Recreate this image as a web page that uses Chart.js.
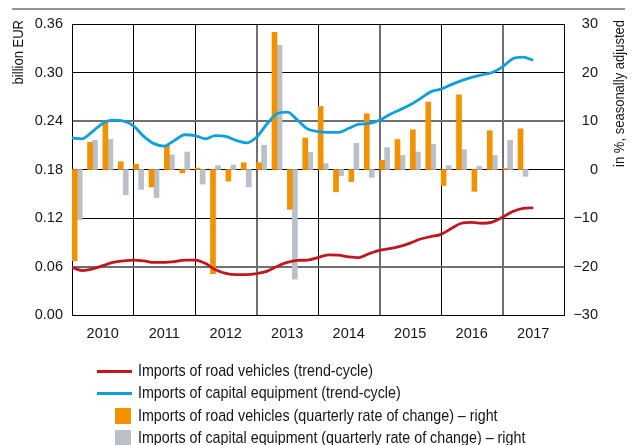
<!DOCTYPE html>
<html>
<head>
<meta charset="utf-8">
<script src="https://cdn.jsdelivr.net/npm/chart.js@4/dist/chart.umd.min.js"></script>
<style>
  html, body { margin: 0; padding: 0; background: #fff; }
  #wrap { position: relative; width: 638px; height: 445px; overflow: hidden; }
  #legend { position: absolute; left: 0; top: 0; width: 638px; height: 445px; pointer-events: none;
            font: 17px "Liberation Sans", Arial, sans-serif; color: #151515; }
  .item { position: absolute; left: 97px; height: 22px; line-height: 22px; white-space: nowrap; }
  .item .mark { position: absolute; }
  .item .txt { position: absolute; left: 41px; top: 0; transform: scaleX(0.84); transform-origin: 0 50%; }
</style>
</head>
<body>
<div id="wrap">
  <canvas id="chart"></canvas>
  <div id="legend"></div>
</div>
<script>
// trend-cycle, every other month, Jan 2010 .. Jul 2017 (billion EUR, left axis)
const trendMonths = [];
for (let y = 2010; y <= 2017; y++) {
  for (let m = 1; m <= 12; m += 2) {
    if (y === 2017 && m > 7) break;
    trendMonths.push(y + '-' + String(m).padStart(2, '0'));
  }
}
const roadTrend = [
  0.059, 0.055, 0.057, 0.061, 0.065, 0.067,
  0.068, 0.067, 0.065, 0.065, 0.066, 0.068,
  0.068, 0.064, 0.056, 0.0515, 0.050, 0.050,
  0.0513, 0.054, 0.060, 0.065, 0.0675, 0.068,
  0.071, 0.0745, 0.074, 0.072, 0.071, 0.076,
  0.080, 0.082, 0.085, 0.089, 0.094, 0.097,
  0.0998, 0.107, 0.1135, 0.1145, 0.1135, 0.115,
  0.121, 0.128, 0.132, 0.1326
];
const capitalTrend = [
  0.219, 0.218, 0.227, 0.237, 0.241, 0.240,
  0.234, 0.221, 0.212, 0.209, 0.216, 0.223,
  0.222, 0.218, 0.222, 0.221, 0.216, 0.213,
  0.220, 0.236, 0.249, 0.251, 0.241, 0.230,
  0.227, 0.226, 0.226, 0.231, 0.236, 0.237,
  0.241, 0.248, 0.254, 0.260, 0.268, 0.276,
  0.2795, 0.285, 0.290, 0.294, 0.297, 0.300,
  0.307, 0.317, 0.319, 0.315
];

// quarterly rate of change, in % (right axis)
const quarters = [];
for (let y = 2010; y <= 2017; y++) {
  for (let q = 1; q <= 4; q++) {
    if (y === 2017 && q > 2) break;
    quarters.push(y + 'Q' + q);
  }
}
const roadChange = [
  -18.8, 5.6, 10.0, 1.6,
  1.1, -3.6, 5.0, -0.7,
  0.3, -21.5, -2.4, 1.4,
  1.4, 28.3, -8.2, 6.5,
  13.0, -4.6, -2.5, 11.5,
  1.9, 6.2, 8.2, 13.9,
  -3.3, 15.4, -4.5, 8.0,
  0.2, 8.4
];
const capitalChange = [
  -10.4, 6.0, 6.2, -5.2,
  -4.1, -5.8, 3.0, 3.6,
  -3.0, 0.8, 0.9, -3.6,
  5.0, 25.6, -22.6, 3.5,
  1.2, -1.3, 5.4, -1.6,
  4.5, 2.9, 3.6, 5.2,
  0.8, 4.1, 0.7, 2.9,
  6.0, -1.4
];

const leftTicks = [0, 0.06, 0.12, 0.18, 0.24, 0.30, 0.36];
const rightTicks = [-30, -20, -10, 0, 10, 20, 30];

// month string -> fractional year; quarter dated at its middle month
const monthX = s => +s.slice(0, 4) + (+s.slice(5) - 1) / 12;
const quarterX = s => +s.slice(0, 4) + (+s.slice(5) - 1) / 4 + 1 / 12;

const RED = '#c0171e', BLUE = '#0ea0dc', ORANGE = '#f39200', GREY = '#b9c0c7';
const TICK_FONT = { family: '"Liberation Sans", Arial, sans-serif', size: 14.5 };
const GRID_DARK = '#000', GRID_GREY = '#707070';

const decor = {
  id: 'decor',
  afterDraw(chart) {
    const c = chart.ctx, a = chart.chartArea;
    c.save();
    c.strokeStyle = '#707070';
    c.lineWidth = 1.5;
    c.beginPath();
    c.moveTo(12, 9);
    c.lineTo(625, 9);
    c.stroke();
    c.fillStyle = '#151515';
    c.font = '15.5px "Liberation Sans", Arial, sans-serif';
    c.textAlign = 'right';
    c.textBaseline = 'middle';
    [[a.left - 53, 'billion EUR'], [a.right + 56, 'in %, seasonally adjusted']].forEach(([x, t]) => {
      c.save();
      c.translate(x, a.top - 4);
      c.rotate(-Math.PI / 2);
      c.scale(0.84, 1);
      c.fillText(t, 0, 0);
      c.restore();
    });
    c.restore();
  }
};

const chart = new Chart(document.getElementById('chart'), {
  type: 'line',
  data: {
    datasets: [{
      label: 'Imports of road vehicles (trend-cycle)',
      data: trendMonths.map((m, i) => ({ x: monthX(m), y: roadTrend[i] })),
      borderColor: RED,
      borderWidth: 2.8,
      pointRadius: 0,
      cubicInterpolationMode: 'monotone',
      yAxisID: 'y'
    }, {
      label: 'Imports of capital equipment (trend-cycle)',
      data: trendMonths.map((m, i) => ({ x: monthX(m), y: capitalTrend[i] })),
      borderColor: BLUE,
      borderWidth: 2.8,
      pointRadius: 0,
      cubicInterpolationMode: 'monotone',
      yAxisID: 'y'
    }, {
      type: 'bar',
      label: 'Imports of road vehicles (quarterly rate of change) – right',
      data: quarters.map((q, i) => ({ x: quarterX(q), y: roadChange[i] })),
      backgroundColor: ORANGE,
      borderWidth: 0,
      barThickness: 5,
      yAxisID: 'y1'
    }, {
      type: 'bar',
      label: 'Imports of capital equipment (quarterly rate of change) – right',
      data: quarters.map((q, i) => ({ x: quarterX(q), y: capitalChange[i] })),
      backgroundColor: GREY,
      borderWidth: 0,
      barThickness: 5,
      yAxisID: 'y1'
    }]
  },
  options: {
    responsive: true,
    maintainAspectRatio: false,
    animation: false,
    layout: { padding: { top: 24, bottom: 100, left: 0, right: 40 } },
    plugins: { legend: { display: false }, tooltip: { enabled: false } },
    scales: {
      x: {
        type: 'linear',
        min: 2010,
        max: 2018,
        offset: false,
        afterFit(s) { s.height = 30; },
        border: { color: '#000', width: 1 },
        grid: {
          offset: false,
          drawTicks: false,
          color: ctx => {
            const v = ctx.tick.value;
            if (v % 1 !== 0) return 'rgba(0,0,0,0)';
            return (v === 2013 || v === 2015 || v === 2017) ? GRID_GREY : GRID_DARK;
          },
          lineWidth: ctx => {
            const v = ctx.tick.value;
            return (v === 2013 || v === 2015 || v === 2017) ? 2 : 1;
          }
        },
        ticks: {
          stepSize: 0.5,
          autoSkip: false,
          maxRotation: 0,
          padding: 10,
          color: '#151515',
          font: TICK_FONT,
          callback: v => (v % 1 === 0.5 ? String(Math.floor(v)) : '')
        }
      },
      y: {
        position: 'left',
        min: leftTicks[0],
        max: leftTicks[leftTicks.length - 1],
        afterFit(s) { s.width = 72; },
        afterBuildTicks(s) { s.ticks = leftTicks.map(v => ({ value: v })); },
        border: { color: '#000', width: 1 },
        grid: {
          drawTicks: false,
          color: ctx => (ctx.index === 1 || ctx.index === 4) ? GRID_GREY : GRID_DARK,
          lineWidth: ctx => (ctx.index === 1 || ctx.index === 4) ? 2 : 1
        },
        ticks: {
          padding: 9,
          color: '#151515',
          font: TICK_FONT,
          callback: v => v.toFixed(2)
        }
      },
      y1: {
        position: 'right',
        min: rightTicks[0],
        max: rightTicks[rightTicks.length - 1],
        afterFit(s) { s.width = 34; },
        afterBuildTicks(s) { s.ticks = rightTicks.map(v => ({ value: v })); },
        border: { color: '#000', width: 1 },
        grid: { display: false, drawTicks: false },
        ticks: {
          padding: 9,
          crossAlign: 'far',
          color: '#151515',
          font: TICK_FONT,
          callback: v => String(v).replace('-', '\u2212')
        }
      }
    }
  },
  plugins: [decor]
});

// legend below the plot
const legend = document.getElementById('legend');
chart.data.datasets.forEach((ds, i) => {
  const item = document.createElement('div');
  item.className = 'item';
  item.style.top = (360 + i * 22.4) + 'px';
  const mark = document.createElement('span');
  mark.className = 'mark';
  if (ds.type === 'bar') {
    Object.assign(mark.style, { left: '18px', top: '3px', width: '16px', height: '16px', background: ds.backgroundColor });
  } else {
    Object.assign(mark.style, { left: '0px', top: '9.5px', width: '35px', height: '3px', background: ds.borderColor });
  }
  const txt = document.createElement('span');
  txt.className = 'txt';
  txt.textContent = ds.label;
  item.appendChild(mark);
  item.appendChild(txt);
  legend.appendChild(item);
});
</script>
</body>
</html>
